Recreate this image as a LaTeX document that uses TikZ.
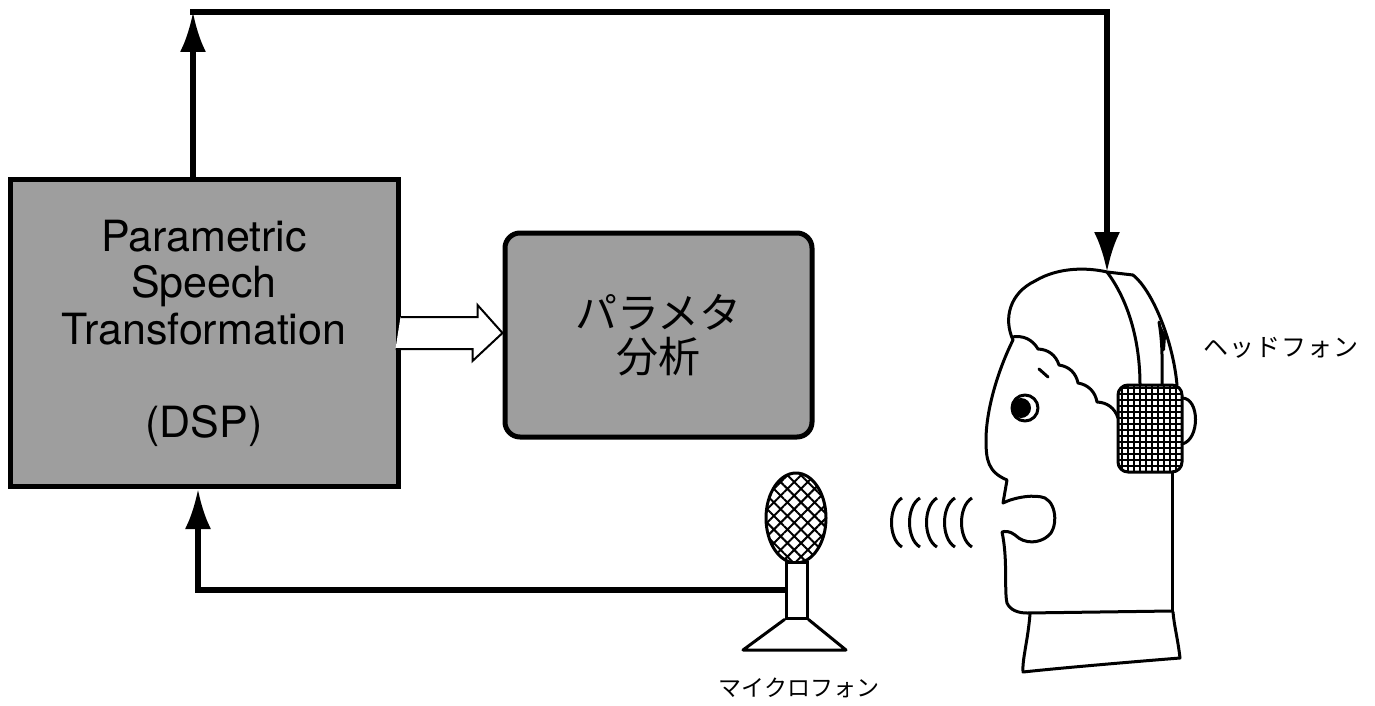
\documentclass[tikz,border=0pt]{standalone}
\usepackage{fontspec}
\setmainfont{TeX Gyre Heros}
\newfontfamily\jpfont{Noto Sans CJK JP}
\usetikzlibrary{arrows.meta,patterns.meta,positioning}

\tikzset{
  feed/.style={line width=2.6pt},
  tip/.style={-{Latex[length=20pt,width=13pt]}},
  shaded/.style={draw, line width=2.5pt, fill=black!38, inner sep=0pt, align=center},
  outline/.style={line width=1.5pt, line join=round, line cap=round},
}

\begin{document}
\begin{tikzpicture}[x=0.5pt,y=-0.5pt]
\useasboundingbox (0,0) rectangle (1375,706);

\node[shaded, minimum width=194pt, minimum height=153.5pt, font=\fontsize{21.5}{23.25}\selectfont] (dsp) at (204,333)
  {Parametric\\Speech\\Transformation\\[23.25pt](DSP)};
\node[shaded, rounded corners=7.5pt, minimum width=153.5pt, minimum height=102pt, font=\jpfont\fontsize{21}{22}\selectfont] (ana) at (658.5,335)
  {パラメタ\\分析};

% hollow arrow
\draw[line width=1pt, fill=white] (dsp.east) ++(0,-16) -- ++(77,0) -- ++(0,-12) -- (ana.west |- dsp.east)
  -- ++(-30,28) -- ++(0,-12) -- ++(-77,0);

% microphone
\draw[outline, pattern={Hatch[angle=45,distance=4.8pt,line width=1pt]}] (796,518) ellipse [x radius=30, y radius=45];
\node[draw, line width=1.5pt, fill=white, minimum width=10.5pt, minimum height=28pt, inner sep=0pt] (stem) at (796.5,590) {};
\draw[outline] (stem.south west) -- (743,650) -- (846,650) -- (stem.south east);
\node[font=\jpfont\fontsize{11.5}{12}\selectfont] (miclabel) at (799,688) {マイクロフォン};

\foreach \x in {892,910,927,945,962}
  \draw[line width=1.5pt] (\x+10,498) .. controls (\x-4,506) and (\x-4,539) .. (\x+10,547);

% head
\coordinate (headtop) at (1107,272);
\draw[outline] (1013,340) .. controls (1003,318) and (1010,293) .. (1035,281)
  .. controls (1060,266) and (1090,268) .. (headtop) -- (1133,275);
\draw[outline] (headtop) .. controls (1128,300) and (1140,340) .. (1140,385);
\draw[outline] (1133,275) .. controls (1152,290) and (1173,340) .. (1177,385);
\draw[outline] (1159,322) .. controls (1163,345) and (1162,365) .. (1162,385);
\fill (1159,322) -- (1166,336) -- (1165,350) -- (1162,352) -- cycle;
\draw[outline, rounded corners=5pt, pattern={Hatch[angle=0,distance=3pt,line width=0.8pt]}] (1118,385) rectangle (1182,472);
\draw[outline] (1182,398) .. controls (1200,398) and (1200,440) .. (1182,444);
\draw[outline] (1012,337) to[bend left=35] (1038,349) to[bend left=35] (1059,365) to[bend left=35] (1078,383)
  to[bend left=35] (1097,402) to[bend left=35] (1118,418);
\draw[outline] (1039,369) -- (1048,377);
\draw[outline] (1025,408) circle [radius=13];
\fill (1021,408) circle [radius=10];
\draw[outline] (1013,340) .. controls (998,370) and (986,410) .. (986,440)
  .. controls (986,460) and (988,472) .. (1007,480) -- (1003,503)
  .. controls (1015,497) and (1035,494) .. (1045,498)
  .. controls (1058,505) and (1057,530) .. (1048,536)
  .. controls (1040,543) and (1025,545) .. (1015,535)
  .. controls (1010,531) and (1005,531) .. (1002,532)
  .. controls (1008,560) and (1004,590) .. (1007,603)
  .. controls (1010,610) and (1018,613) .. (1027,613) -- (1172,611);
\draw[outline] (1172,472) -- (1172,611);
\draw[outline] (1030,614) .. controls (1028,640) and (1022,660) .. (1023,672)
  .. controls (1060,668) and (1130,662) .. (1180,658)
  .. controls (1178,640) and (1174,625) .. (1173,612);
\node[anchor=west, font=\jpfont\fontsize{12.5}{13}\selectfont\addfontfeatures{LetterSpace=4}] (hplabel) at (1196,348) {ヘッドフォン};

% connections
\coordinate (corner) at (193,12);
\coordinate (ret) at (198,0);
\draw[feed,tip] (dsp.north -| corner) -- (corner);
\draw[feed,tip] ([xshift=-1.3pt]corner) -| (headtop);
\draw[feed,tip] (stem.west) -| (dsp.south -| ret);
\end{tikzpicture}
\end{document}
